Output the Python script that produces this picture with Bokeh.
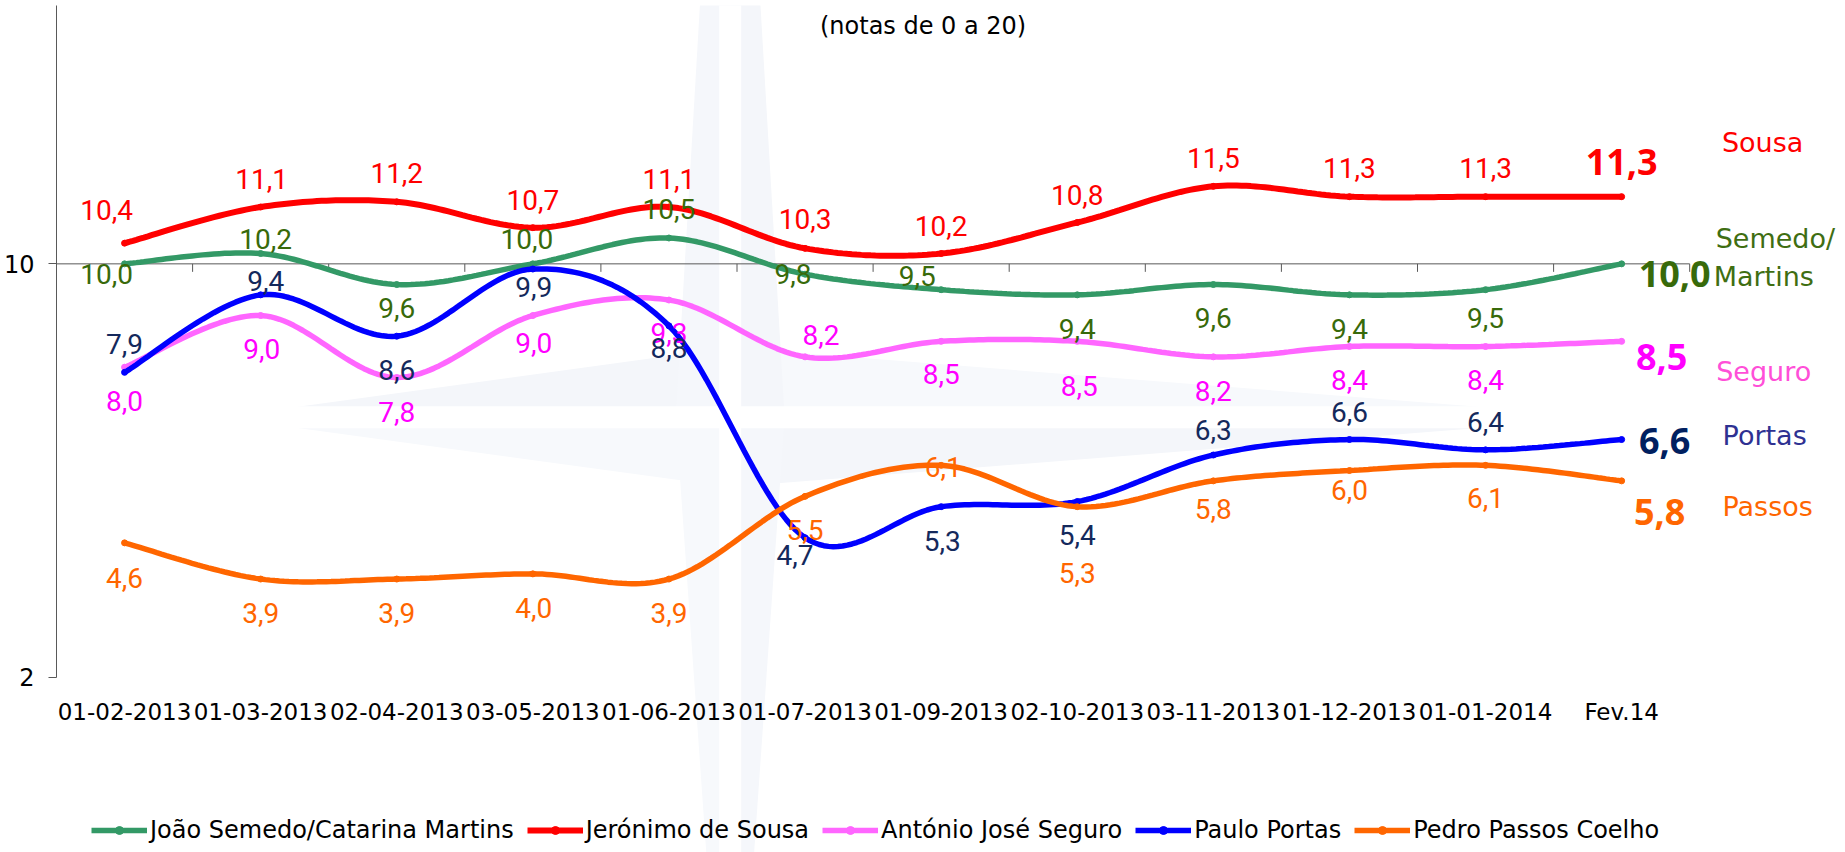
import numpy as np
from bokeh.plotting import figure
from bokeh.models import Range1d, FixedTicker, Label, Legend, LegendItem
from bokeh.core.properties import value
from bokeh.embed import file_html
from bokeh.resources import INLINE

# ---------------- data ----------------
dates = ["01-02-2013", "01-03-2013", "02-04-2013", "03-05-2013", "01-06-2013",
         "01-07-2013", "01-09-2013", "02-10-2013", "03-11-2013", "01-12-2013",
         "01-01-2014", "Fev.14"]
semedo = [10.0, 10.2, 9.6, 10.0, 10.5, 9.8, 9.5, 9.4, 9.6, 9.4, 9.5, 10.0]
sousa = [10.4, 11.1, 11.2, 10.7, 11.1, 10.3, 10.2, 10.8, 11.5, 11.3, 11.3, 11.3]
seguro = [8.0, 9.0, 7.8, 9.0, 9.3, 8.2, 8.5, 8.5, 8.2, 8.4, 8.4, 8.5]
portas = [7.9, 9.4, 8.6, 9.9, 8.8, 4.7, 5.3, 5.4, 6.3, 6.6, 6.4, 6.6]
passos = [4.6, 3.9, 3.9, 4.0, 3.9, 5.5, 6.1, 5.3, 5.8, 6.0, 6.1, 5.8]
legend_names = ["João Semedo/Catarina Martins", "Jerónimo de Sousa",
                "António José Seguro", "Paulo Portas", "Pedro Passos Coelho"]
short_names = [["Semedo/", "Martins"], ["Sousa"], ["Seguro"], ["Portas"], ["Passos"]]
y_ticks = [2, 10]
y_max = 15.0
axis_cross = 10
title_text = "(notas de 0 a 20)"

# ---------------- styles ----------------
line_colors = ["#339966", "#FF0000", "#FF66FF", "#0000FF", "#FF6600"]
label_colors = ["#386A0A", "#FF0000", "#FF00FF", "#14295C", "#FF6600"]
bold_colors = ["#386A0A", "#FF0000", "#FF00FF", "#002060", "#FF6600"]
name_colors = ["#3F6E12", "#FF0000", "#FF4FD8", "#2E3192", "#FF6600"]
line_widths = [5.5, 6, 5.5, 5.5, 5.5]

# per-label pixel offsets (dx, dy; dy positive = down)
label_offsets = [
    [(-18, 10), (5, -15), (0, 23), (-6, -25), (0, -29), (-12, 0), (-24, -14), (0, 34), (0, 33), (0, 34), (0, 28)],
    [(-18, -33), (1, -28), (0, -29), (0, -28), (0, -28), (0, -29), (0, -28), (0, -28), (0, -28), (0, -29), (0, -29)],
    [(0, 34), (1, 33), (0, 34), (1, 27), (0, 33), (16, -22), (0, 33), (2, 45), (0, 34), (0, 33), (0, 33)],
    [(0, -28), (5, -14), (0, 34), (1, 18), (0, 22), (-10, 17), (1, 34), (0, 33), (0, -25), (0, -28), (0, -28)],
    [(0, 35), (0, 34), (0, 34), (1, 34), (0, 34), (0, 34), (2, 2), (0, 66), (0, 28), (0, 19), (0, 33)],
]
bold_offsets = [(53, 10), (0, -35), (40, 16), (43, 1), (38, 31)]
name_offsets = [[(94, -25, "left"), (92, 13, "left")], [(141, -54, "center")],
                [(142, 30, "center")], [(143, -4, "center")], [(146, 26, "center")]]

series = [semedo, sousa, seguro, portas, passos]
x = np.arange(len(dates))

PX_PER_UNIT = 51.67
PX_PER_CAT = 136.1
TOP = 5
LEFT = 53
FRAME_H = 852 - TOP
FRAME_W = 1787


def smooth(xs, ys, n=30):
    P = np.column_stack([xs, ys]).astype(float)
    m = len(P)
    out = []
    t = np.linspace(0, 1, n)[:, None]
    for i in range(m - 1):
        p0 = P[i - 1] if i > 0 else P[i]
        p1, p2 = P[i], P[i + 1]
        p3 = P[i + 2] if i + 2 < m else P[i + 1]
        c1 = p1 + (p2 - p0) / 6.0
        c2 = p2 - (p3 - p1) / 6.0
        seg = (1 - t) ** 3 * p1 + 3 * (1 - t) ** 2 * t * c1 + 3 * (1 - t) * t ** 2 * c2 + t ** 3 * p2
        out.append(seg if i == 0 else seg[1:])
    arr = np.vstack(out)
    return arr[:, 0], arr[:, 1]


x_start = -0.5
x_end = x_start + FRAME_W / PX_PER_CAT
y_start = y_max - FRAME_H / PX_PER_UNIT
p = figure(frame_width=FRAME_W, frame_height=FRAME_H,
           x_range=Range1d(x_start, x_end),
           y_range=Range1d(y_start, y_max),
           output_backend="svg", toolbar_location=None,
           min_border_left=LEFT, min_border_right=5, min_border_top=TOP, min_border_bottom=0)
p.background_fill_color = "white"
p.border_fill_color = "white"
p.outline_line_color = None
p.xgrid.visible = False
p.ygrid.visible = False

# ---- faint compass watermark ----
cx, cy = 4.45, 7.03
hw_h, hw_v = 1.35, 0.40
lt, rt, tt, bt = 0.7, 10.94, 25.0, -8.0
wm_xs = [[lt, cx, cx], [lt, cx, cx], [rt, cx, cx], [rt, cx, cx],
         [cx, cx, cx - hw_v], [cx, cx, cx + hw_v], [cx, cx, cx - hw_v], [cx, cx, cx + hw_v]]
wm_ys = [[cy, cy, cy + hw_h], [cy, cy, cy - hw_h], [cy, cy, cy + hw_h], [cy, cy, cy - hw_h],
         [tt, cy, cy], [tt, cy, cy], [bt, cy, cy], [bt, cy, cy]]
wm_cols = ["#F4F6FA", "#F7F9FC", "#F7F9FC", "#F4F6FA", "#F5F7FB", "#F4F6FA", "#F7F9FC", "#F5F7FB"]
p.patches(wm_xs, wm_ys, fill_color=wm_cols, line_color=None)
p.segment(x0=[lt, cx], y0=[cy, bt], x1=[rt, cx], y1=[cy, tt], line_color="white", line_width=22)

# ---- horizontal category axis line crossing at 10, with tick marks ----
n_cat = len(dates)
p.segment(x0=[-0.5], y0=[axis_cross], x1=[n_cat - 0.5], y1=[axis_cross],
          line_color="#595959", line_width=1)
tick_x = x + 0.5
p.segment(x0=tick_x, y0=[axis_cross] * n_cat, x1=tick_x,
          y1=[axis_cross - 8 / PX_PER_UNIT] * n_cat, line_color="#595959", line_width=1)

# ---- series ----
items = []
for k, ys in enumerate(series):
    sx, sy = smooth(x, ys)
    r1 = p.line(sx, sy, line_color=line_colors[k], line_width=line_widths[k])
    r2 = p.scatter(x, ys, size=6, fill_color=line_colors[k], line_color=line_colors[k])
    items.append(LegendItem(label=legend_names[k], renderers=[r1, r2]))

# ---- data labels ----
for k, ys in enumerate(series):
    offs = label_offsets[k]
    n = len(offs)
    p.text(x=list(x[:n]), y=ys[:n], text=[f"{v:.1f}".replace(".", ",") for v in ys[:n]],
           x_offset=[o[0] for o in offs], y_offset=[o[1] for o in offs],
           text_align="center", text_baseline="middle",
           text_font=value("Roboto"), text_font_size="28px", text_color=label_colors[k])

# ---- last value (bold) and name labels ----
last = n_cat - 1
for k, ys in enumerate(series):
    dx, dy = bold_offsets[k]
    p.text(x=[last], y=[ys[-1]], text=[f"{ys[-1]:.1f}".replace(".", ",")],
           x_offset=dx, y_offset=dy, text_align="center", text_baseline="middle",
           text_font=value("Noto Sans"), text_font_style="bold",
           text_font_size="36px", text_color=bold_colors[k])
    for nm, (ndx, ndy, al) in zip(short_names[k], name_offsets[k]):
        p.text(x=[last], y=[ys[-1]], text=[nm], x_offset=ndx, y_offset=ndy,
               text_align=al, text_baseline="middle", text_font=value("DejaVu Sans"),
               text_font_size="27px", text_color=name_colors[k])

# ---- title ----
p.add_layout(Label(x=(n_cat - 1) / 2, y=y_max, x_offset=50, y_offset=-20,
                   text=title_text, text_align="center", text_baseline="alphabetic",
                   text_font="DejaVu Sans", text_font_size="24px", text_color="#000000"))

# ---- axes ----
yax = p.yaxis[0]
yax.ticker = FixedTicker(ticks=y_ticks)
yax.bounds = (y_ticks[0], y_max)
yax.axis_line_color = "#595959"
yax.major_tick_line_color = "#595959"
yax.major_tick_out = 8
yax.major_tick_in = 0
yax.minor_tick_line_color = None
yax.major_label_standoff = 14
yax.major_label_text_font = "DejaVu Sans"
yax.major_label_text_font_size = "24px"
yax.major_label_text_color = "#000000"

xax = p.xaxis[0]
xax.fixed_location = y_ticks[0]
xax.ticker = FixedTicker(ticks=list(range(n_cat)))
xax.major_label_overrides = {i: d for i, d in enumerate(dates)}
xax.axis_line_color = None
xax.major_tick_line_color = None
xax.minor_tick_line_color = None
xax.major_tick_out = 0
xax.major_tick_in = 0
xax.major_label_standoff = 22
xax.major_label_text_font = "DejaVu Sans"
xax.major_label_text_font_size = "23px"
xax.major_label_text_color = "#000000"

legend = Legend(items=items, orientation="horizontal", location=(35, 8),
                label_text_font="DejaVu Sans", label_text_font_size="24px",
                label_text_color="#000000", glyph_width=56, glyph_height=20,
                label_standoff=3, spacing=13, padding=0, margin=0,
                border_line_color=None, background_fill_alpha=0)
p.add_layout(legend, "center")

open("out.html", "w").write(file_html(p, INLINE))
